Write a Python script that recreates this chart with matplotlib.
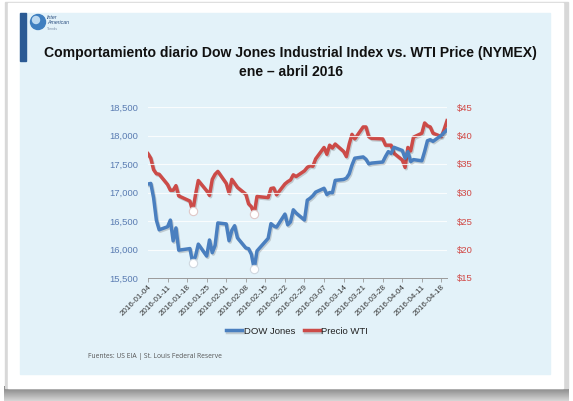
import numpy as np
import pandas as pd
import matplotlib
matplotlib.use("Agg")
import matplotlib.pyplot as plt
import matplotlib.dates as mdates
import matplotlib.patheffects as pe
from matplotlib.patches import Rectangle, Circle
from matplotlib.ticker import FuncFormatter
from matplotlib.colors import LinearSegmentedColormap

# dias de mercado ene - abril 2016
fechas = ["2016-01-04", "2016-01-05", "2016-01-06", "2016-01-07", "2016-01-08",
          "2016-01-11", "2016-01-12", "2016-01-13", "2016-01-14", "2016-01-15",
          "2016-01-19", "2016-01-20", "2016-01-21", "2016-01-22",
          "2016-01-25", "2016-01-26", "2016-01-27", "2016-01-28", "2016-01-29",
          "2016-02-01", "2016-02-02", "2016-02-03", "2016-02-04", "2016-02-05",
          "2016-02-08", "2016-02-09", "2016-02-10", "2016-02-11", "2016-02-12",
          "2016-02-16", "2016-02-17", "2016-02-18", "2016-02-19",
          "2016-02-22", "2016-02-23", "2016-02-24", "2016-02-25", "2016-02-26",
          "2016-02-29", "2016-03-01", "2016-03-02", "2016-03-03", "2016-03-04",
          "2016-03-07", "2016-03-08", "2016-03-09", "2016-03-10", "2016-03-11",
          "2016-03-14", "2016-03-15", "2016-03-16", "2016-03-17", "2016-03-18",
          "2016-03-21", "2016-03-22", "2016-03-23", "2016-03-24",
          "2016-03-28", "2016-03-29", "2016-03-30", "2016-03-31", "2016-04-01",
          "2016-04-04", "2016-04-05", "2016-04-06", "2016-04-07", "2016-04-08",
          "2016-04-11", "2016-04-12", "2016-04-13", "2016-04-14", "2016-04-15",
          "2016-04-18", "2016-04-19", "2016-04-20"]

dow = [17149, 17159, 16907, 16514, 16346,
       16399, 16516, 16151, 16379, 15988,
       16016, 15767, 15883, 16094,
       15885, 16167, 15944, 16070, 16466,
       16449, 16154, 16337, 16417, 16205,
       16027, 16014, 15915, 15660, 15974,
       16196, 16454, 16413, 16392,
       16621, 16432, 16485, 16697, 16640,
       16517, 16865, 16899, 16944, 17007,
       17074, 16964, 17000, 16995, 17213,
       17229, 17252, 17326, 17481, 17602,
       17624, 17583, 17503, 17516,
       17535, 17633, 17717, 17685, 17793,
       17737, 17603, 17716, 17542, 17577,
       17556, 17721, 17908, 17926, 17897,
       18004, 18054, 18096]

wti = [36.8, 36.0, 34.0, 33.3, 33.2,
       31.4, 30.4, 30.4, 31.2, 29.4,
       28.5, 26.7, 29.6, 32.1,
       30.3, 29.5, 32.3, 33.2, 33.7,
       31.6, 29.9, 32.3, 31.6, 30.9,
       29.7, 28.0, 27.5, 26.2, 29.3,
       29.1, 30.7, 30.8, 29.6,
       31.5, 31.9, 32.2, 33.1, 32.8,
       33.8, 34.4, 34.7, 34.6, 35.9,
       37.9, 36.7, 38.3, 37.8, 38.5,
       37.2, 36.3, 38.5, 40.2, 39.4,
       41.5, 41.5, 39.8, 39.5,
       39.4, 38.3, 38.3, 38.3, 36.9,
       35.7, 34.4, 37.9, 37.3, 39.7,
       40.4, 42.2, 41.7, 41.5, 40.4,
       39.8, 41.1, 42.6]

fechas_min = ["2016-01-20", "2016-02-11"]
dow_ticks = [15500, 16000, 16500, 17000, 17500, 18000, 18500]
wti_ticks = [15, 20, 25, 30, 35, 40, 45]
semanas = pd.date_range("2016-01-04", "2016-04-18", freq="7D")

titulo = "Comportamiento diario Dow Jones Industrial Index vs. WTI Price (NYMEX)"
subtitulo = "ene \u2013 abril 2016"
fuente = "Fuentes: US EIA | St. Louis Federal Reserve"

plt.rcParams['font.family'] = ['Liberation Sans', 'DejaVu Sans']

AZUL = "#4a7fbf"
ROJO = "#cc4b48"

fig = plt.figure(figsize=(5.73, 4.01), dpi=100, facecolor="white")

# fondo tipo diapositiva
bg = fig.add_axes([0, 0, 1, 1])
bg.set_xlim(0, 573)
bg.set_ylim(401, 0)
bg.axis("off")
gris = LinearSegmentedColormap.from_list("gris", ["#7a7a7a", "#a8a8a8", "#d6d6d6"])
grad = np.linspace(0, 1, 50).reshape(-1, 1)
bg.imshow(grad, extent=[4, 569, 401, 386], cmap=gris, aspect="auto", zorder=0)
bg.add_patch(Rectangle((5, 2), 563, 386, color="#d8d8d8", zorder=1))
bg.add_patch(Rectangle((8, 3), 555, 385, color="white", zorder=2))
bg.add_patch(Rectangle((20, 13), 530, 361, color="#e3f2f9", zorder=3))
bg.add_patch(Rectangle((20, 13), 6, 48, color="#2b5a94", zorder=4))
bg.add_patch(Circle((38, 22), 7.5, color="#3f7fc0", zorder=5))
bg.add_patch(Circle((36, 20), 3.5, color="#bcd9f0", zorder=6))
bg.text(47, 15, "Inter\nAmerican", fontsize=3.8, style="italic", color="#2b4f80",
        va="top", linespacing=0.9, zorder=6)
bg.text(47, 29, "Trends", fontsize=2.6, color="#7a8ea8", va="center", zorder=6)

fig.text(0.507, 1 - 53 / 401, titulo, ha="center", va="center",
         fontsize=10.05, fontweight="bold", color="#111111")
fig.text(0.507, 1 - 72 / 401, subtitulo, ha="center", va="center",
         fontsize=10.05, fontweight="bold", color="#111111")
fig.text(88 / 573, 1 - 357 / 401, fuente, ha="left", va="center",
         fontsize=4.9, color="#555555", family=["Open Sans", "DejaVu Sans"])

x = pd.to_datetime(fechas)
sombra = [pe.SimpleLineShadow(offset=(0.8, -1.0), shadow_color="#404040", alpha=0.22),
          pe.Normal()]

ax = fig.add_axes([148 / 573, 1 - 278 / 401, 299 / 573, 171 / 401])
ax.patch.set_alpha(0)
ax2 = ax.twinx()

ax2.plot(x, wti, color=ROJO, lw=2.5, solid_joinstyle="round", path_effects=sombra,
         label="Precio WTI", zorder=3)
ax.plot(x, dow, color=AZUL, lw=2.5, solid_joinstyle="round", path_effects=sombra,
        label="DOW Jones", zorder=3)

for f in fechas_min:
    i = fechas.index(f)
    ax.plot(x[i], dow[i], "o", ms=6, mfc="white", mec="#d0d8e0", mew=0.8, zorder=5)
    ax2.plot(x[i], wti[i], "o", ms=6, mfc="white", mec="#e0c8c8", mew=0.8, zorder=5)

ax.set_zorder(ax2.get_zorder() + 1)
ax.set_ylim(15500, 18500)
ax.set_yticks(dow_ticks)
ax.yaxis.set_major_formatter(FuncFormatter(lambda v, p: f"{v:,.0f}"))
ax2.set_ylim(15, 45)
ax2.set_yticks(wti_ticks)
ax2.yaxis.set_major_formatter(FuncFormatter(lambda v, p: f"${v:.0f}"))

ax.set_xlim(x[0], x[-1])
ax.set_xticks(semanas)
ax.xaxis.set_major_formatter(mdates.DateFormatter("%Y-%m-%d"))
for lbl in ax.get_xticklabels():
    lbl.set_rotation(45)
    lbl.set_ha("right")
    lbl.set_rotation_mode("anchor")
ax.tick_params(axis="x", labelsize=5.8, labelcolor="#333333", length=3,
               color="#9a9a9a", width=0.6, pad=1)
ax.tick_params(axis="y", labelsize=6.8, labelcolor="#5a7cb2", length=0, pad=7)
ax2.tick_params(axis="y", labelsize=6.8, labelcolor="#d14845", length=0, pad=7)

for a in (ax, ax2):
    for s in ("top", "left", "right", "bottom"):
        a.spines[s].set_visible(False)
ax.spines["bottom"].set_visible(True)
ax.spines["bottom"].set_color("#9a9a9a")
ax.spines["bottom"].set_linewidth(0.7)
ax.grid(axis="y", color="white", lw=0.8, alpha=0.8)

h1, l1 = ax.get_legend_handles_labels()
h2, l2 = ax2.get_legend_handles_labels()
leg = fig.legend(h1 + h2, l1 + l2, loc="center", ncol=2, frameon=False,
                 bbox_to_anchor=(297 / 573, 1 - 331 / 401), fontsize=6.8,
                 handlelength=1.7, handletextpad=0.15, columnspacing=0.9)
for t in leg.get_texts():
    t.set_color("#222222")

fig.savefig("out.png", dpi=100)
